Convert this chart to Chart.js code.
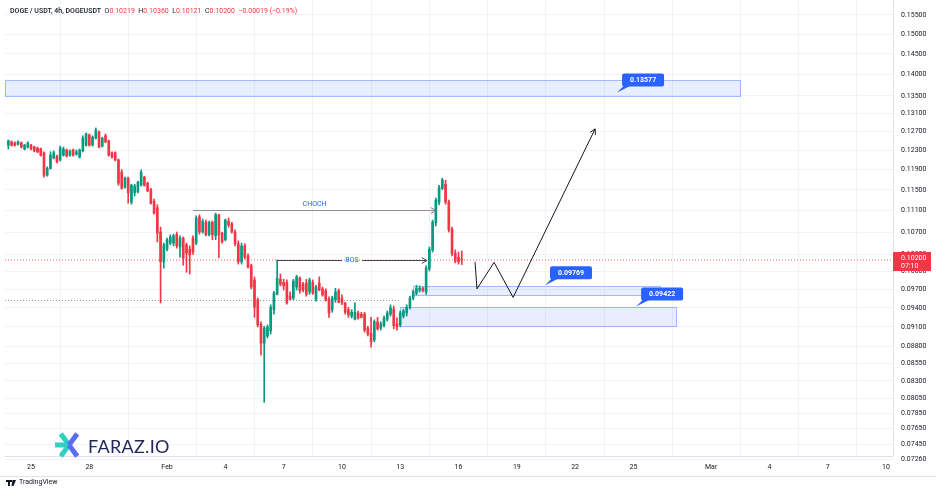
<!DOCTYPE html>
<html>
<head>
<meta charset="utf-8">
<title>DOGE / USDT 4h</title>
<script src="https://cdn.jsdelivr.net/npm/chart.js@4.4.1/dist/chart.umd.min.js"></script>
<style>
  body { margin: 0; background: #fff; }
  #wrap { position: relative; width: 936px; height: 492px; overflow: hidden; font-family: Roboto, "Liberation Sans", sans-serif; }
  #legend { position: absolute; left: 10px; top: 7px; font-size: 7px; color: #131722; white-space: pre; }
  #legend .sym { font-weight: 500; }
  #legend .v { color: #f23645; }
  #brand { position: absolute; left: 88px; top: 435px; font-family: Lato, "Open Sans", sans-serif; font-size: 18px; color: #23265a; letter-spacing: 0.3px; }
  #footer { position: absolute; left: 19px; top: 478px; font-size: 7px; color: #131722; }
</style>
</head>
<body>
<div id="wrap">
  <canvas id="chart" width="936" height="492"></canvas>
  <div id="legend"><span class="sym">DOGE / USDT, 4h, DOGEUSDT</span>  O<span class="v">0.10219</span>  H<span class="v">0.10360</span>  L<span class="v">0.10121</span>  C<span class="v">0.10200</span>  <span class="v">−0.00019 (−0.19%)</span></div>
  <div id="brand">FARAZ.IO</div>
  <div id="footer">TradingView</div>
</div>
<script>
// time axis is in days counted from Jan 25
const xTickDays = [0, 3, 7, 10, 13, 16, 19, 22, 25, 28, 31, 35, 38, 41, 44];
const xTickLabels = ['25', '28', 'Feb', '4', '7', '10', '13', '16', '19', '22', '25', 'Mar', '4', '7', '10'];
const yTicks = [0.155, 0.150, 0.145, 0.140, 0.135, 0.131, 0.127, 0.123, 0.119, 0.115, 0.111, 0.107, 0.103, 0.100,
  0.097, 0.094, 0.091, 0.088, 0.0855, 0.083, 0.0805, 0.0785, 0.0765, 0.0745, 0.0726];

const firstCandleDay = -7 / 6; // Jan 23, 20:00
const candleHours = 4;

const opens = [
  .1241, .1248, .1246, .1243, .1246, .1233, .1237, .1241, .1237, .1235,
  .1233, .1225, .1179, .1193, .1214, .1218, .1210, .1220, .1231, .1220,
  .1231, .1222, .1216, .1229, .1241, .1263, .1241, .1256, .1269, .1239,
  .1261, .1250, .1225, .1225, .1210, .1185, .1155, .1173, .1126, .1144,
  .1146, .1159, .1175, .1163, .1150, .1128, .1115, .1070, .1017, .1039,
  .1050, .1050, .1066, .1043, .1059, .1047, .1039, .1059, .1050, .1098,
  .1070, .1088, .1065, .1088, .1063, .1102, .1068, .1056, .1090, .1085,
  .1070, .1049, .1017, .1045, .1027, .1010, .0986, .0953, .0914, .0885,
  .0896, .0904, .0937, .0962, .0987, .0982, .0982, .0959, .0956, .0974,
  .0989, .0979, .0981, .0966, .0982, .0954, .0981, .0971, .0968, .0954,
  .0937, .0953, .0968, .0956, .0948, .0937, .0927, .0922, .0932, .0930,
  .0930, .0908, .0900, .0890, .0918, .0908, .0912, .0922, .0930, .0938,
  .0915, .0913, .0927, .0932, .0941, .0956, .0964, .0969, .0972, .0966,
  .1005, .1038, .1087, .1126, .1153, .1161, .1126, .1075, .1032, .1025,
  .10219
];
const highs = [
  .1252, .1250, .1248, .1250, .1248, .1243, .1248, .1243, .1239, .1237,
  .1235, .1227, .1196, .1227, .1229, .1220, .1239, .1237, .1233, .1231,
  .1233, .1231, .1233, .1261, .1267, .1265, .1261, .1278, .1272, .1258,
  .1265, .1252, .1227, .1227, .1212, .1190, .1175, .1175, .1161, .1161,
  .1167, .1190, .1177, .1165, .1153, .1132, .1121, .1079, .1050, .1059,
  .1065, .1066, .1070, .1063, .1061, .1050, .1045, .1063, .1100, .1102,
  .1094, .1092, .1090, .1090, .1105, .1103, .1070, .1094, .1096, .1088,
  .1074, .1054, .1050, .1049, .1031, .1013, .0991, .0956, .0918, .0911,
  .0913, .0945, .0967, .1020, .0996, .0987, .0986, .0966, .0987, .0994,
  .0991, .0982, .0987, .0989, .0986, .0977, .0991, .0974, .0971, .0958,
  .0959, .0972, .0971, .0961, .0949, .0941, .0937, .0948, .0935, .0933,
  .0933, .0911, .0925, .0921, .0925, .0918, .0927, .0935, .0945, .0943,
  .0924, .0935, .0938, .0945, .0959, .0969, .0977, .0976, .0974, .1010,
  .1043, .1092, .1134, .1159, .1173, .1169, .1130, .1079, .1038, .1034,
  .10360
];
const lows = [
  .1233, .1239, .1239, .1241, .1235, .1231, .1235, .1231, .1227, .1225,
  .1218, .1175, .1177, .1191, .1212, .1204, .1208, .1218, .1216, .1218,
  .1218, .1220, .1214, .1227, .1239, .1239, .1239, .1254, .1235, .1237,
  .1246, .1218, .1214, .1208, .1159, .1151, .1153, .1124, .1122, .1138,
  .1144, .1157, .1157, .1146, .1122, .1103, .1052, .0948, .1006, .1036,
  .1047, .1045, .1041, .1025, .1011, .0999, .0996, .1030, .1047, .1066,
  .1068, .1063, .1063, .1056, .1056, .1024, .1050, .1054, .1079, .1068,
  .1045, .1013, .1013, .1022, .1006, .0971, .0925, .0910, .0867, .0800,
  .0893, .0899, .0930, .0961, .0976, .0969, .0946, .0953, .0953, .0969,
  .0964, .0966, .0959, .0962, .0962, .0951, .0968, .0959, .0951, .0925,
  .0933, .0949, .0948, .0945, .0930, .0925, .0924, .0921, .0922, .0924,
  .0902, .0896, .0879, .0887, .0905, .0905, .0910, .0919, .0927, .0907,
  .0905, .0910, .0924, .0927, .0938, .0953, .0961, .0966, .0966, .0962,
  .1001, .1034, .1081, .1121, .1150, .1122, .1070, .1027, .1015, .1013,
  .10121
];
const closes = [
  .1250, .1241, .1241, .1248, .1237, .1241, .1246, .1233, .1229, .1227,
  .1220, .1179, .1193, .1220, .1225, .1206, .1235, .1233, .1218, .1229,
  .1220, .1227, .1231, .1256, .1265, .1241, .1258, .1274, .1237, .1256,
  .1248, .1220, .1216, .1210, .1163, .1153, .1173, .1144, .1159, .1157,
  .1165, .1185, .1159, .1148, .1124, .1105, .1068, .1017, .1047, .1056,
  .1061, .1063, .1045, .1059, .1023, .1032, .1029, .1034, .1096, .1070,
  .1090, .1065, .1088, .1065, .1102, .1065, .1052, .1092, .1083, .1070,
  .1049, .1017, .1045, .1025, .1008, .0974, .0941, .0913, .0885, .0908,
  .0910, .0941, .0964, .0989, .0979, .0976, .0948, .0954, .0984, .0991,
  .0968, .0969, .0962, .0986, .0964, .0974, .0969, .0961, .0953, .0932,
  .0956, .0966, .0949, .0948, .0933, .0929, .0933, .0933, .0924, .0925,
  .0905, .0899, .0887, .0918, .0907, .0915, .0924, .0932, .0940, .0912,
  .0910, .0932, .0935, .0941, .0956, .0966, .0972, .0972, .0968, .1006,
  .1039, .1088, .1130, .1155, .1169, .1126, .1074, .1031, .1018, .1017,
  .10200
];

// drawings: zones [fromDay, toDay, top, bottom], tags [day, price, text]
const zones = [
  [-1.34, 36.49, 0.1387, 0.1350],
  [19.66, 32.37, 0.0976, 0.0961],
  [18.99, 33.20, 0.0942, 0.0912]
];
const tags = [
  [30.16, 0.13577, '0.13577'],
  [26.45, 0.09769, '0.09769'],
  [31.14, 0.09422, '0.09422']
];
const chochLine = [8.34, 20.84, 0.1111];
const bosLine = [12.66, 20.38, 0.1020];
const lastPrice = 0.1020;
const swingLevel = [18.99, 0.0952];
const pathDays = [22.85, 22.95, 23.83, 24.81, 29.03];
const pathPrices = [0.1017, 0.0971, 0.1016, 0.0957, 0.1276];

const X_MIN = -1.34, X_MAX = 44.36;
const Y_MIN = 0.0730, Y_MAX = 0.1590;

const UP = '#089981', DOWN = '#f23645';
const candleDays = opens.map((_, i) => firstCandleDay + i * candleHours / 24);
const candleColors = opens.map((o, i) => closes[i] >= o ? UP : DOWN);

function drawArrowHead(ctx, fromX, fromY, toX, toY, color) {
  const a = Math.atan2(toY - fromY, toX - fromX);
  const len = 6;
  ctx.strokeStyle = color;
  ctx.lineWidth = 1;
  ctx.beginPath();
  ctx.moveTo(toX - len * Math.cos(a - 0.5), toY - len * Math.sin(a - 0.5));
  ctx.lineTo(toX, toY);
  ctx.lineTo(toX - len * Math.cos(a + 0.5), toY - len * Math.sin(a + 0.5));
  ctx.stroke();
}

function roundRect(ctx, x, y, w, h, r) {
  ctx.beginPath();
  ctx.moveTo(x + r, y);
  ctx.arcTo(x + w, y, x + w, y + h, r);
  ctx.arcTo(x + w, y + h, x, y + h, r);
  ctx.arcTo(x, y + h, x, y, r);
  ctx.arcTo(x, y, x + w, y, r);
  ctx.closePath();
}

const overlay = {
  id: 'overlay',
  beforeDatasetsDraw(chart) {
    const { ctx, chartArea: area, scales: { x, y } } = chart;
    ctx.save();
    ctx.beginPath();
    ctx.rect(area.left, area.top, area.right - area.left, area.bottom - area.top);
    ctx.clip();
    zones.forEach(z => {
      const x1 = Math.round(x.getPixelForValue(z[0])) + 0.5;
      const x2 = Math.round(x.getPixelForValue(z[1])) + 0.5;
      const y1 = Math.round(y.getPixelForValue(z[2])) + 0.5;
      const y2 = Math.round(y.getPixelForValue(z[3])) + 0.5;
      ctx.fillStyle = 'rgba(41, 98, 255, 0.11)';
      ctx.fillRect(x1, y1, x2 - x1, y2 - y1);
      ctx.strokeStyle = 'rgba(41, 98, 255, 0.4)';
      ctx.lineWidth = 1;
      ctx.strokeRect(x1, y1, x2 - x1, y2 - y1);
    });
    ctx.restore();
  },
  afterDatasetsDraw(chart) {
    const { ctx, scales: { x, y } } = chart;
    ctx.save();
    ctx.font = '7px Roboto, "Liberation Sans", sans-serif';
    ctx.textAlign = 'center';
    ctx.textBaseline = 'middle';

    // CHOCH
    let x1 = x.getPixelForValue(chochLine[0]), x2 = x.getPixelForValue(chochLine[1]);
    let py = Math.round(y.getPixelForValue(chochLine[2])) + 0.5;
    ctx.strokeStyle = '#8c8f99';
    ctx.lineWidth = 1;
    ctx.beginPath(); ctx.moveTo(x1, py); ctx.lineTo(x2, py); ctx.stroke();
    drawArrowHead(ctx, x1, py, x2, py, '#787b86');
    ctx.fillStyle = '#2962ff';
    ctx.fillText('CHOCH', (x1 + x2) / 2, py - 6);

    // BOS
    x1 = x.getPixelForValue(bosLine[0]); x2 = x.getPixelForValue(bosLine[1]);
    py = Math.round(y.getPixelForValue(bosLine[2])) + 0.5;
    const mid = (x1 + x2) / 2;
    ctx.strokeStyle = '#434651';
    ctx.beginPath();
    ctx.moveTo(x1, py); ctx.lineTo(mid - 10, py);
    ctx.moveTo(mid + 10, py); ctx.lineTo(x2, py);
    ctx.stroke();
    drawArrowHead(ctx, x1, py, x2, py, '#434651');
    ctx.fillStyle = '#2962ff';
    ctx.fillText('BOS', mid, py);

    // projected path arrow
    const n = pathDays.length;
    drawArrowHead(ctx, x.getPixelForValue(pathDays[n - 2]), y.getPixelForValue(pathPrices[n - 2]),
      x.getPixelForValue(pathDays[n - 1]), y.getPixelForValue(pathPrices[n - 1]), '#131722');

    // price tags
    ctx.font = 'bold 7px Roboto, "Liberation Sans", sans-serif';
    tags.forEach(t => {
      const tx = x.getPixelForValue(t[0]), ty = y.getPixelForValue(t[1]);
      const bx = tx + 5, by = ty - 19, bw = 42, bh = 13;
      ctx.fillStyle = '#2962ff';
      roundRect(ctx, bx, by, bw, bh, 2);
      ctx.fill();
      ctx.beginPath();
      ctx.moveTo(bx + 2, by + bh - 1);
      ctx.lineTo(bx + 9, by + bh - 1);
      ctx.lineTo(tx, ty);
      ctx.closePath();
      ctx.fill();
      ctx.fillStyle = '#ffffff';
      ctx.fillText(t[2], bx + bw / 2, by + bh / 2 + 0.5);
    });
    ctx.restore();
  },
  afterDraw(chart) {
    const { ctx, chartArea: area, scales: { y } } = chart;
    ctx.save();
    // last price label on the axis
    const py = y.getPixelForValue(lastPrice);
    ctx.fillStyle = '#f23645';
    ctx.fillRect(area.right, py - 8, 38, 19);
    ctx.fillStyle = '#ffffff';
    ctx.font = '7px Roboto, "Liberation Sans", sans-serif';
    ctx.textBaseline = 'middle';
    ctx.fillText(lastPrice.toFixed(5), area.right + 8, py - 2);
    ctx.fillText('07:10', area.right + 8, py + 6);

    // footer separator
    ctx.strokeStyle = '#e0e3eb';
    ctx.beginPath(); ctx.moveTo(0, 476.5); ctx.lineTo(936, 476.5); ctx.stroke();

    // FARAZ logo mark
    const cx = 69, cy = 445, r = 14;
    ctx.lineWidth = 5;
    ctx.lineCap = 'butt';
    ctx.strokeStyle = '#2fd0c4';
    [Math.PI, Math.PI * 0.7, Math.PI * 1.3].forEach(a => {
      ctx.beginPath(); ctx.moveTo(cx, cy); ctx.lineTo(cx + r * Math.cos(a), cy + r * Math.sin(a)); ctx.stroke();
    });
    ctx.strokeStyle = '#5c6cf2';
    [0.3 * Math.PI, -0.3 * Math.PI].forEach(a => {
      ctx.beginPath(); ctx.moveTo(cx, cy); ctx.lineTo(cx + r * Math.cos(a), cy + r * Math.sin(a)); ctx.stroke();
    });

    // TradingView mark
    ctx.fillStyle = '#131722';
    ctx.fillRect(6, 480, 6, 2);
    ctx.fillRect(8, 480, 2, 6);
    ctx.beginPath(); ctx.moveTo(12.5, 480); ctx.lineTo(16, 480); ctx.lineTo(13.5, 486); ctx.lineTo(11.5, 486); ctx.closePath(); ctx.fill();
    ctx.restore();
  }
};

const fontFamily = 'Roboto, "Liberation Sans", sans-serif';
Chart.defaults.font.family = fontFamily;

new Chart(document.getElementById('chart').getContext('2d'), {
  type: 'bar',
  data: {
    datasets: [
      {
        type: 'line',
        data: [{ x: X_MIN, y: lastPrice }, { x: X_MAX, y: lastPrice }],
        borderColor: 'rgba(242, 54, 69, 0.8)',
        borderWidth: 1,
        borderDash: [1, 2],
        pointRadius: 0,
        order: 20
      },
      {
        type: 'line',
        data: [{ x: X_MIN, y: swingLevel[1] }, { x: swingLevel[0], y: swingLevel[1] }],
        borderColor: '#9598a1',
        borderWidth: 1,
        borderDash: [1, 2],
        pointRadius: 0,
        order: 19
      },
      {
        label: 'wicks',
        data: candleDays.map((d, i) => ({ x: d, y: [lows[i], highs[i]] })),
        backgroundColor: candleColors,
        barThickness: 1,
        grouped: false,
        order: 6
      },
      {
        label: 'bodies',
        data: candleDays.map((d, i) => ({ x: d, y: [Math.min(opens[i], closes[i]), Math.max(opens[i], closes[i])] })),
        backgroundColor: candleColors,
        barThickness: 2,
        minBarLength: 1,
        grouped: false,
        order: 5
      },
      {
        type: 'line',
        data: pathDays.map((d, i) => ({ x: d, y: pathPrices[i] })),
        borderColor: '#131722',
        borderWidth: 1,
        pointRadius: 0,
        tension: 0,
        order: 1
      }
    ]
  },
  options: {
    responsive: false,
    animation: false,
    devicePixelRatio: 1,
    layout: { padding: { left: 5, top: 0, right: 0, bottom: 16 } },
    plugins: { legend: { display: false }, tooltip: { enabled: false } },
    scales: {
      x: {
        type: 'linear',
        min: X_MIN,
        max: X_MAX,
        offset: false,
        grid: { color: '#f2f3f6', drawTicks: false },
        border: { color: '#e0e3eb' },
        afterBuildTicks: s => { s.ticks = xTickDays.map(v => ({ value: v })); },
        afterFit: s => { s.height = 20; s.paddingLeft = 0; s.paddingRight = 0; },
        ticks: {
          autoSkip: false,
          maxRotation: 0,
          padding: 7,
          color: '#131722',
          font: { size: 7 },
          callback: (v, i) => xTickLabels[i]
        }
      },
      y: {
        type: 'logarithmic',
        position: 'right',
        min: Y_MIN,
        max: Y_MAX,
        bounds: 'data',
        grid: { color: '#f2f3f6', drawTicks: false },
        border: { color: '#e0e3eb' },
        afterBuildTicks: s => { s.ticks = yTicks.map(v => ({ value: v })); },
        afterFit: s => { s.width = 43; s.paddingTop = 0; s.paddingBottom = 0; },
        ticks: {
          autoSkip: false,
          padding: 8,
          color: '#131722',
          font: { size: 7 },
          callback: v => Number(v).toFixed(5)
        }
      }
    }
  },
  plugins: [overlay]
});
</script>
</body>
</html>
